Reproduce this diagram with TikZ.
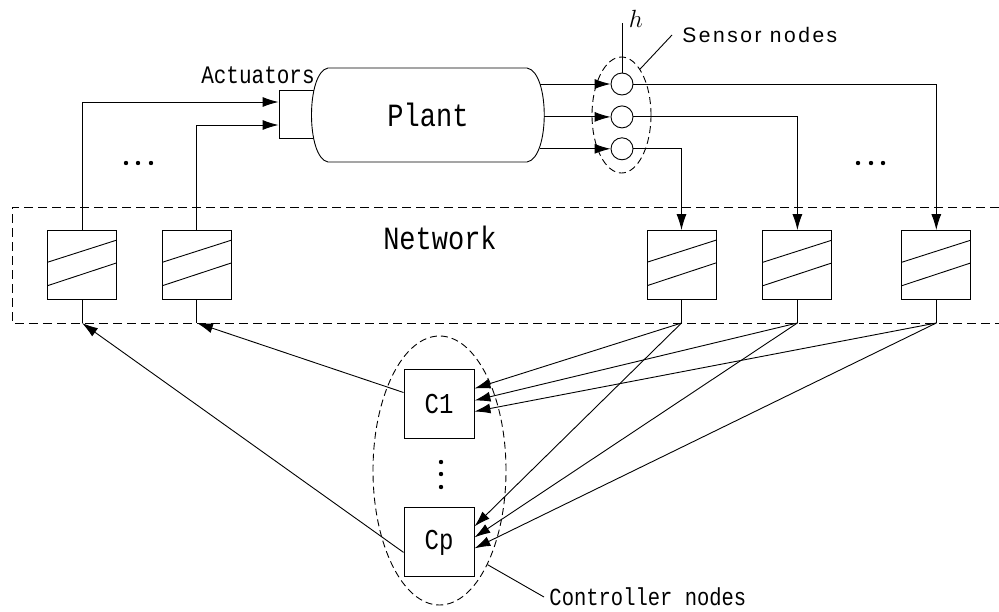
\documentclass[tikz,border=0pt]{standalone}
\usepackage{fontspec}
\usepackage{graphicx}
\usepackage{tikz}
\usetikzlibrary{calc,positioning,shapes.geometric,arrows.meta}
\newfontfamily\labfont{Liberation Mono}
\newfontfamily\sensfont{Liberation Sans}[LetterSpace=12.0]
\newcommand{\tallt}[1]{\scalebox{1}[1.2]{#1}}

\begin{document}
\begin{tikzpicture}[x=1pt,y=-1pt,line width=0.9pt,
        >={Latex[length=16pt,width=10pt]},
        buffer/.style={draw, minimum width=69pt, minimum height=69pt, inner sep=0pt,
            path picture={
                \draw ($(path picture bounding box.north west)!0.46!(path picture bounding box.south west)$)
                    -- ($(path picture bounding box.north east)!0.14!(path picture bounding box.south east)$);
                \draw ($(path picture bounding box.north west)!0.80!(path picture bounding box.south west)$)
                    -- ($(path picture bounding box.north east)!0.47!(path picture bounding box.south east)$);
            }},
        sensor/.style={circle, draw, minimum size=22pt, inner sep=0pt},
        ctrlbox/.style={draw, minimum width=70pt, minimum height=69pt, inner sep=0pt,
            font=\labfont\fontsize{24}{24}\selectfont},
        group/.style={ellipse, draw, dash pattern=on 7pt off 4pt, inner sep=0pt}]
    \useasboundingbox (0,0) rectangle (999,611);

    % network area
    \draw[dash pattern=on 9pt off 5pt] (999,207) -- (12,207) -- (12,323) -- (999,323);
    \node[font=\labfont\fontsize{27}{27}\selectfont] (net) at (440,238) {\tallt{Network}};
    \coordinate (net_s) at (0,323);

    % buffers
    \node[buffer] (buf_1) at (82,265) {};
    \node[buffer] (buf_2) [right=45pt of buf_1] {};
    \node[buffer] (buf_3) at (681.5,265) {};
    \node[buffer] (buf_4) [right=46pt of buf_3] {};
    \node[buffer] (buf_5) [right=69pt of buf_4] {};

    % plant and actuators
    \node[draw, minimum width=40pt, minimum height=48pt] (act) at (299,114) {};
    \draw[fill=white] (328,68) -- (527,68) .. controls (550,72) and (550,158) .. (527,162)
        -- (328,162) .. controls (306,158) and (306,72) .. (328,68) -- cycle;
    \node[minimum width=232pt, minimum height=94pt, font=\labfont\fontsize{27}{27}\selectfont]
        (plant) at (428,115) {\tallt{Plant}};
    \node[font=\labfont\fontsize{21}{21}\selectfont] (act_lbl) at (258,75) {\tallt{Actuators}};

    % sensors
    \node[sensor] (sen_1) at (622,84) {};
    \node[sensor] (sen_2) [below=10pt of sen_1] {};
    \node[sensor] (sen_3) [below=9pt of sen_2] {};
    \node[group, minimum width=59pt, minimum height=116pt] (sens) at (621.5,115) {};
    \node[font=\fontsize{25}{25}\selectfont] (h_lbl) at (636,19) {$h$};
    \draw (sen_1.north) -- ++(0,-50);
    \node[anchor=west, inner sep=0pt, font=\sensfont\fontsize{21}{21}\selectfont] (sens_lbl) at (682,35) {Sensor nodes};
    \draw (sens.68) -- ([xshift=-10pt]sens_lbl.west);

    % controllers
    \node[ctrlbox] (c_1) at (439,403.5) {\tallt{C1}};
    \node[ctrlbox] (c_p) [below=69pt of c_1] {\tallt{Cp}};
    \node[group, minimum width=133pt, minimum height=269pt] (ctrl) at (439.5,470.5) {};
    \node[anchor=west, inner sep=0pt, font=\labfont\fontsize{20.5}{20.5}\selectfont] (ctrl_lbl) at (549,597) {\tallt{Controller nodes}};
    \draw (ctrl.-63) -- ([xshift=-5pt]ctrl_lbl.west);

    % dots
    \fill (126,163) circle (2.2pt) (138,163) circle (2.2pt) (151,163) circle (2.2pt);
    \fill (858,163) circle (2.2pt) (871,163) circle (2.2pt) (883,163) circle (2.2pt);
    \fill (441,462) circle (2.2pt) (441,474) circle (2.2pt) (441,487) circle (2.2pt);

    % plant -> sensors -> network
    \draw[->] ([xshift=-4pt]plant.east |- sen_1) -- (sen_1);
    \draw[->] (plant.east |- sen_2) -- (sen_2);
    \draw[->] ([xshift=-4pt]plant.east |- sen_3) -- (sen_3);
    \draw[->] (sen_1.east) -| (buf_5.north);
    \draw[->] (sen_2.east) -| (buf_4.north);
    \draw[->] (sen_3.east) -| (buf_3.north);

    % network -> actuators
    \draw[->] (buf_1.north) |- ([yshift=12pt]act.west);
    \draw[->] (buf_2.north) |- ([yshift=-11pt]act.west);

    % buffer outputs
    \draw (buf_1.south) -- (buf_1.south |- net_s) coordinate (b_1);
    \draw (buf_2.south) -- (buf_2.south |- net_s) coordinate (b_2);
    \draw (buf_3.south) -- (buf_3.south |- net_s) coordinate (b_3);
    \draw (buf_4.south) -- (buf_4.south |- net_s) coordinate (b_4);
    \draw (buf_5.south) -- (buf_5.south |- net_s) coordinate (b_5);

    % network <-> controllers
    \draw[->] (b_3) -- ([yshift=15pt]c_1.east);
    \draw[->] (b_4) -- ([yshift=3pt]c_1.east);
    \draw[->] (b_5) -- ([yshift=-8pt]c_1.east);
    \draw[->] (b_3) -- ([yshift=16pt]c_p.east);
    \draw[->] (b_4) -- ([yshift=5pt]c_p.east);
    \draw[->] (b_5) -- ([yshift=-6pt]c_p.east);
    \draw[->] ([yshift=11pt]c_1.west) -- (b_2);
    \draw[->] ([yshift=-10pt]c_p.west) -- (b_1);
\end{tikzpicture}
\end{document}
